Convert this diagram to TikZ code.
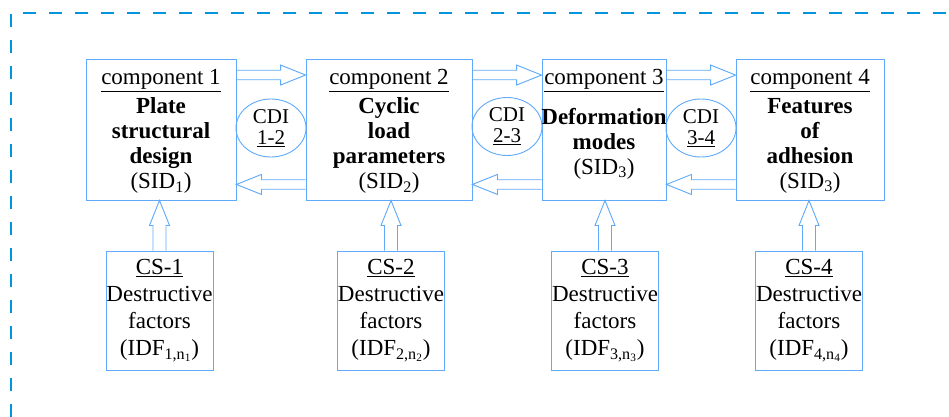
\documentclass[tikz,border=0pt]{standalone}
\usepackage{fontspec}
\setmainfont{Liberation Serif}
\usetikzlibrary{shapes.geometric, positioning, calc}
\definecolor{boxblue}{RGB}{95,170,250}
\definecolor{frameblue}{RGB}{0,150,220}

\begin{document}
\begin{tikzpicture}[
    x=1pt, y=-1pt,
    comp/.style={draw=boxblue, line width=0.9pt, rectangle, minimum height=141pt, inner sep=0pt},
    title/.style={inner sep=0pt, font=\fontsize{23}{25}\selectfont},
    body/.style={inner sep=0pt, align=center, font=\fontsize{23}{25}\selectfont},
    cs/.style={draw=boxblue, line width=0.9pt, rectangle, minimum width=107pt, minimum height=119pt, inner sep=0pt, align=center, font=\fontsize{23}{27}\selectfont},
    cdi/.style={draw=boxblue, line width=0.9pt, ellipse, minimum width=70pt, minimum height=58pt, inner sep=0pt, align=center, font=\fontsize{21}{21}\selectfont},
    frame/.style={draw=frameblue, line width=1.5pt, dash pattern=on 13pt off 13pt},
    hollow/.style={draw=boxblue, line width=0.9pt, to path={
        ($(\tikztostart)!#1!90:(\tikztotarget)$)
        -- ($(\tikztotarget)!25pt!(\tikztostart)!#1!-90:(\tikztostart)$)
        -- ($(\tikztotarget)!25pt!(\tikztostart)!10pt!-90:(\tikztostart)$)
        -- (\tikztotarget)
        -- ($(\tikztotarget)!25pt!(\tikztostart)!10pt!90:(\tikztostart)$)
        -- ($(\tikztotarget)!25pt!(\tikztostart)!#1!90:(\tikztostart)$)
        -- ($(\tikztostart)!#1!-90:(\tikztotarget)$)}},
    hollow/.default=4.75pt
]
\useasboundingbox (0,0) rectangle (949,417);
\draw[frame] (11,417) -- (11,13) -- (949,13);

\node[comp, minimum width=150pt] (c1) at (161,129.5) {};
\node[comp, minimum width=166pt] (c2) at (389,129.5) {};
\node[comp, minimum width=124pt] (c3) at (604,129.5) {};
\node[comp, minimum width=148pt] (c4) at (810,129.5) {};

\node[title, below=11pt of c1.north] (t1) {\underline{component 1}};
\node[title, below=11pt of c2.north] (t2) {\underline{component 2}};
\node[title, below=11pt of c3.north] (t3) {\underline{component 3}};
\node[title, below=11pt of c4.north] (t4) {\underline{component 4}};

\node[body] (b1) at ([yshift=-16pt]c1.center) {\textbf{Plate}\\\textbf{structural}\\\textbf{design}\\(SID\textsubscript{1})};
\node[body] (b2) at ([yshift=-16pt]c2.center) {\textbf{Cyclic}\\\textbf{load}\\\textbf{parameters}\\(SID\textsubscript{2})};
\node[body] (b3) at ([yshift=-14pt]c3.center) {\textbf{Deformation}\\\textbf{modes}\\(SID\textsubscript{3})};
\node[body] (b4) at ([yshift=-16pt]c4.center) {\textbf{Features}\\\textbf{of}\\\textbf{adhesion}\\(SID\textsubscript{3})};

\node[cdi] (d12) at ([yshift=1.5pt]$(c1.east)!0.5!(c2.west)$) {CDI\\\underline{1-2}};
\node[cdi] (d23) at ([yshift=3pt]$(c2.east)!0.5!(c3.west)$) {CDI\\\underline{2-3}};
\node[cdi] (d34) at ([yshift=1.5pt]$(c3.east)!0.5!(c4.west)$) {CDI\\\underline{3-4}};

\node[cs] (cs1) at (159.5,310.5) {\underline{CS-1}\\Destructive\\factors\\(IDF\textsubscript{1,n\textsubscript{1}})};
\node[cs] (cs2) at (391,310.5) {\underline{CS-2}\\Destructive\\factors\\(IDF\textsubscript{2,n\textsubscript{2}})};
\node[cs] (cs3) at (605,310.5) {\underline{CS-3}\\Destructive\\factors\\(IDF\textsubscript{3,n\textsubscript{3}})};
\node[cs] (cs4) at (809,310.5) {\underline{CS-4}\\Destructive\\factors\\(IDF\textsubscript{4,n\textsubscript{4}})};

\draw[hollow] ([yshift=-16.5pt]c1.north east) to ([yshift=-16.5pt]c2.north west);
\draw[hollow] ([yshift=-16.5pt]c2.north east) to ([yshift=-16.5pt]c3.north west);
\draw[hollow] ([yshift=-16.5pt]c3.north east) to ([yshift=-16.5pt]c4.north west);
\draw[hollow] ([yshift=16pt]c2.south west) to ([yshift=16pt]c1.south east);
\draw[hollow] ([yshift=16pt]c3.south west) to ([yshift=16pt]c2.south east);
\draw[hollow] ([yshift=16pt]c4.south west) to ([yshift=16pt]c3.south east);
\draw[hollow=6.5pt] (cs1.north) to (cs1.north |- c1.south);
\draw[hollow=6.5pt] (cs2.north) to (cs2.north |- c2.south);
\draw[hollow=6.5pt] (cs3.north) to (cs3.north |- c3.south);
\draw[hollow=6.5pt] (cs4.north) to (cs4.north |- c4.south);
\end{tikzpicture}
\end{document}
